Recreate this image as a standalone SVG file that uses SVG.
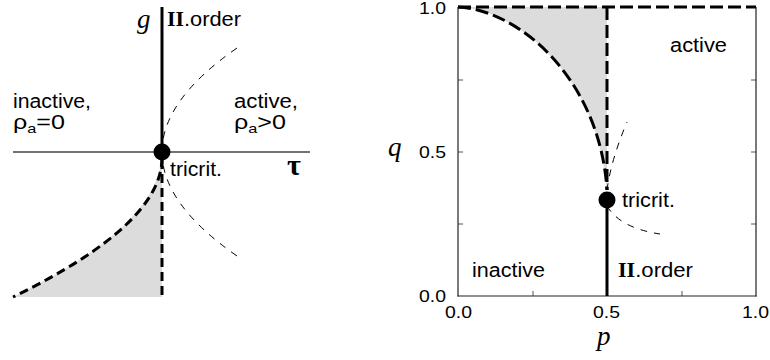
<svg xmlns="http://www.w3.org/2000/svg" width="770" height="360" viewBox="0 0 770 360">
<style>
.lbl{font-family:"Liberation Sans",Arial,sans-serif;font-size:20px;fill:#000}
.tick{font-family:"Liberation Sans",Arial,sans-serif;font-size:17px;fill:#000}
.ital{font-family:"Liberation Serif","Times New Roman",serif;font-style:italic;fill:#000}
.bold{font-family:"Liberation Serif","Times New Roman",serif;font-weight:bold}
.sub{font-size:13px}
.thick{fill:none;stroke:#000;stroke-width:3;stroke-dasharray:9,5}
.thickR{fill:none;stroke:#000;stroke-width:3;stroke-dasharray:13,5}
.thin{fill:none;stroke:#000;stroke-width:1;stroke-dasharray:7,7}
.solid{fill:none;stroke:#000;stroke-width:3}
.fillg{fill:#dcdcdc;stroke:none}
.tk{stroke:#555;stroke-width:1}
</style>

<!-- Left panel -->
<g id="left-regions">
  <path class="fillg" d="M162,152 Q162,224.5 13,297 L162,297 Z"/>
</g>
<g id="connectors">
  <line x1="13" y1="152" x2="310" y2="152" stroke="#444" stroke-width="1.5"/>
  <line class="solid" x1="162" y1="7" x2="162" y2="152"/>
  <path class="thick" d="M162,158 Q162,224.5 13,297"/>
  <line class="thick" x1="162" y1="160" x2="162" y2="297"/>
  <path class="thin" d="M162,152 Q162,100 237,48"/>
  <path class="thin" d="M162,152 Q162,204 237,256"/>

  <!-- right panel lines -->
  <path class="fillg" d="M458,7 C520,10 600,80 607,192 L607,7 Z"/>
  <g class="tk">
    <line x1="756" y1="80" x2="751" y2="80"/>
    <line x1="756" y1="152" x2="751" y2="152"/>
    <line x1="756" y1="224" x2="751" y2="224"/>
    <line x1="458" y1="80" x2="463" y2="80"/>
    <line x1="458" y1="152" x2="463" y2="152"/>
    <line x1="458" y1="224" x2="463" y2="224"/>
    <line x1="533" y1="296" x2="533" y2="291"/>
    <line x1="682" y1="296" x2="682" y2="291"/>
  </g>
  <line x1="458" y1="7" x2="458" y2="296.5" stroke="#222" stroke-width="1.2"/>
  <line x1="756" y1="7" x2="756" y2="296.5" stroke="#222" stroke-width="1.2"/>
  <line x1="457.5" y1="296" x2="756.5" y2="296" stroke="#222" stroke-width="1.2"/>
  <line class="thickR" x1="458" y1="7" x2="756" y2="7"/>
  <path class="thickR" d="M458,7 C520,10 600,80 607,190"/>
  <line class="thickR" x1="607" y1="7" x2="607" y2="190"/>
  <line class="solid" x1="607" y1="200" x2="607" y2="296"/>
  <path class="thin" d="M607,190 Q611,160 627,122"/>
  <path class="thin" d="M607,206 Q620,228 660,234"/>
</g>

<g id="tricrit-left">
  <circle cx="162" cy="152" r="8.5" fill="#000"/>
  <text class="lbl" x="170" y="176" textLength="52" lengthAdjust="spacingAndGlyphs">tricrit.</text>
</g>
<g id="tricrit-right">
  <circle cx="607" cy="200" r="8.5" fill="#000"/>
  <text class="lbl" x="622" y="207" textLength="53" lengthAdjust="spacingAndGlyphs">tricrit.</text>
</g>

<g id="left-labels">
  <text class="ital" x="137" y="28" font-size="27">g</text>
  <text class="lbl" x="167" y="26" textLength="74" lengthAdjust="spacingAndGlyphs"><tspan class="bold">II</tspan>.order</text>
  <text class="lbl" x="13" y="108" textLength="78" lengthAdjust="spacingAndGlyphs">inactive,</text>
  <text class="lbl" x="13" y="129" textLength="52" lengthAdjust="spacingAndGlyphs">ρ<tspan class="sub" dy="4">a</tspan><tspan dy="-4">=0</tspan></text>
  <text class="lbl" x="234" y="108" textLength="64" lengthAdjust="spacingAndGlyphs">active,</text>
  <text class="lbl" x="234" y="129" textLength="52" lengthAdjust="spacingAndGlyphs">ρ<tspan class="sub" dy="4">a</tspan><tspan dy="-4">&gt;0</tspan></text>
  <text x="287" y="175" font-family="Liberation Serif,'Times New Roman',serif" font-size="30" font-weight="bold">τ</text>
</g>

<g id="right-labels">
  <text class="lbl" x="670" y="52" textLength="57" lengthAdjust="spacingAndGlyphs">active</text>
  <text class="lbl" x="472" y="277" textLength="73" lengthAdjust="spacingAndGlyphs">inactive</text>
  <text class="lbl" x="618" y="277" textLength="75" lengthAdjust="spacingAndGlyphs"><tspan class="bold">II</tspan>.order</text>
  <text class="tick" x="419" y="14" textLength="27" lengthAdjust="spacingAndGlyphs">1.0</text>
  <text class="tick" x="419" y="158" textLength="27" lengthAdjust="spacingAndGlyphs">0.5</text>
  <text class="tick" x="419" y="302" textLength="27" lengthAdjust="spacingAndGlyphs">0.0</text>
  <text class="tick" x="445" y="318" textLength="27" lengthAdjust="spacingAndGlyphs">0.0</text>
  <text class="tick" x="593" y="318" textLength="27" lengthAdjust="spacingAndGlyphs">0.5</text>
  <text class="tick" x="742" y="318" textLength="27" lengthAdjust="spacingAndGlyphs">1.0</text>
  <text class="ital" x="388" y="156" font-size="27">q</text>
  <text class="ital" x="597" y="345" font-size="27">p</text>
</g>
</svg>
